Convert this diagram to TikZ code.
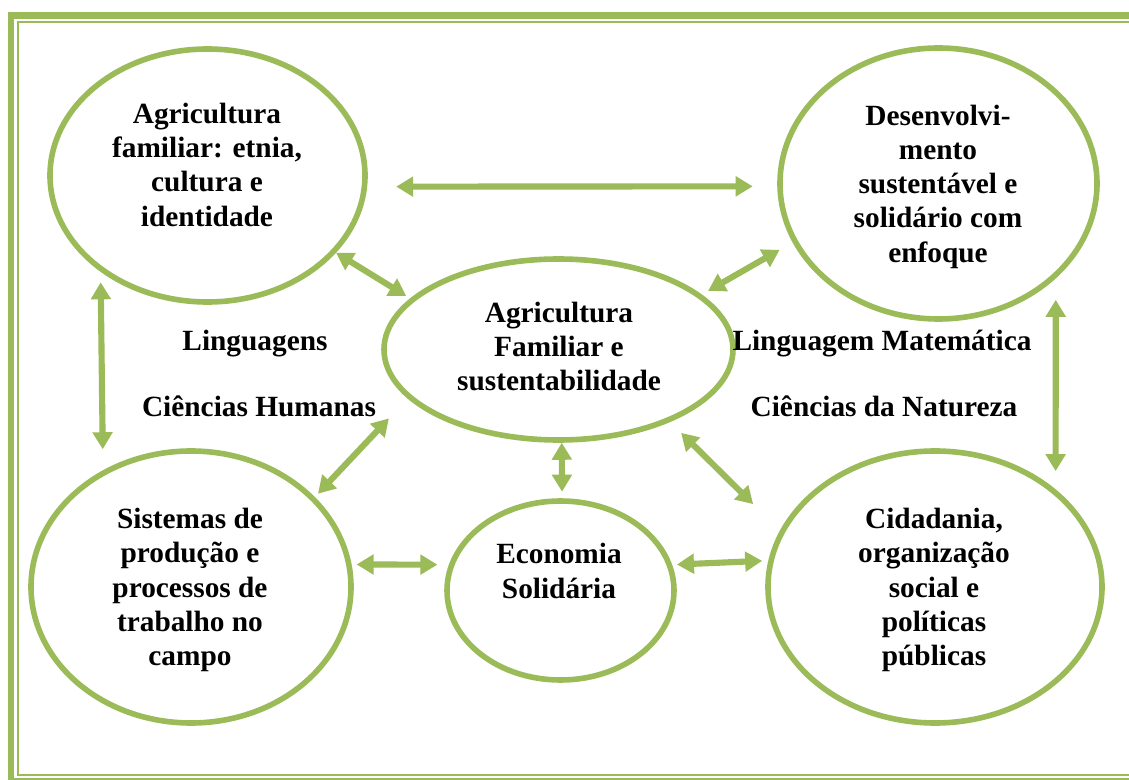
\documentclass[tikz,border=0pt]{standalone}
\usepackage{fontspec}
\setmainfont{Liberation Serif}
\usetikzlibrary{shapes.geometric, arrows.meta}
\definecolor{leaf}{HTML}{9BBB59}

\begin{document}
\begin{tikzpicture}[
    x=0.75pt, y=-0.75pt,
    %% -- Node styles ------------------------------------------------------
    %%
    %% bubble: green ellipse, size given per node with minimum width/height.
    %%   The text goes in its own caption node on top of it.
    bubble/.style={
        draw=leaf,
        shape=ellipse,
        line width=4.2pt,
        inner sep=0pt,
    },
    caption/.style={
        font=\fontsize{22}{25.7}\selectfont\bfseries,
        align=center,
        inner sep=0pt,
    },
    %% area: free-standing subject area names between the bubbles
    area/.style={font=\fontsize{22}{25.7}\selectfont\bfseries, inner sep=0pt, anchor=base},
    %% -- Connector style ----------------------------------------------------
    %%
    %%   Usage:  \draw[link, shorten <=..., shorten >=...] (A.angle) -- (B.angle);
    link/.style={
        <->,
        >={Triangle[length=12.75pt, width=14.5pt]},
        draw=leaf,
        line width=4.6pt,
    },
    frame/.style={draw=leaf, line join=miter},
]

\path[fill=white, use as bounding box] (0,0) rectangle (1129,780);

%% -- Page frame -------------------------------------------------------------

\draw[frame, line width=5pt]   (1135,15.5) -- (11,15.5) -- (11,781) -- (1135,781);
\draw[frame, line width=1.5pt] (1135,22) -- (18.3,22) -- (18.3,775) -- (1135,775);

%% -- Place nodes here -------------------------------------------------------

\node[bubble, minimum width=236.25pt, minimum height=189.75pt] (fam) at (207.5,175.5) {};
\node[bubble, minimum width=237.75pt, minimum height=203.25pt] (des) at (938.5,183.5) {};
\node[bubble, minimum width=261.75pt, minimum height=135.75pt] (sus) at (558.5,349.5) {};
\node[bubble, minimum width=240pt,    minimum height=204pt]    (sis) at (191,587) {};
\node[bubble, minimum width=170.25pt, minimum height=134.25pt] (eco) at (560.5,590.5) {};
\node[bubble, minimum width=250.5pt,  minimum height=204pt]    (cid) at (935,587) {};

\node[caption] (fam-t) at (207,164.7) {Agricultura\\familiar: etnia,\\cultura e\\identidade};
\node[caption] (des-t) at (938,186.5) {Desenvolvi-\\mento\\sustentável e\\solidário com\\enfoque};
\node[caption] (sus-t) at (559,346.7) {Agricultura\\Familiar e\\sustentabilidade};
\node[caption] (sis-t) at (190,590)   {Sistemas de\\produção e\\processos de\\trabalho no\\campo};
\node[caption] (eco-t) at (559,571)   {Economia\\Solidária};
\node[caption] (cid-t) at (934,590)   {Cidadania,\\organização\\social e\\políticas\\públicas};

\node[area] (ling) at (255,350.5) {Linguagens};
\node[area] (hum)  at (259,416.5) {Ciências Humanas};
\node[area] (mat)  at (882,350.5) {Linguagem Matemática};
\node[area] (nat)  at (884,416.5) {Ciências da Natureza};

%% -- Draw edges here --------------------------------------------------------

%% outer ring
\draw[link, shorten <=21.75pt, shorten >=18.4pt]  (fam.-4)    -- (des.181);
\draw[link, shorten <=7.9pt,   shorten >=15.75pt] (fam.222.6) -- (sis.127.5);
\draw[link, shorten <=16pt,    shorten >=13.65pt] (des.-39.3) -- (cid.39.2);
\draw[link, shorten <=3.75pt,  shorten >=8.6pt]   (sis.8.5)   -- (eco.167.9);
\draw[link, shorten <=3.6pt,   shorten >=4.6pt]   (eco.13.95) -- (cid.171.8);

%% spokes from the centre
\draw[link, shorten >=3.5pt]                      (fam.-31.6) -- (sus.161);
\draw[link, shorten <=5.5pt,   shorten >=11.25pt] (sus.21.5)  -- (des.202.8);
\draw[link, shorten <=20.5pt,  shorten >=3.4pt]   (sus.198.5) -- (sis.36.5);
\draw[link, shorten >=4.9pt]                      (sus.-88)   -- (eco.89);
\draw[link, shorten <=11.6pt,  shorten >=28.2pt]  (sus.-33.3) -- (cid.160.3);

\end{tikzpicture}
\end{document}
